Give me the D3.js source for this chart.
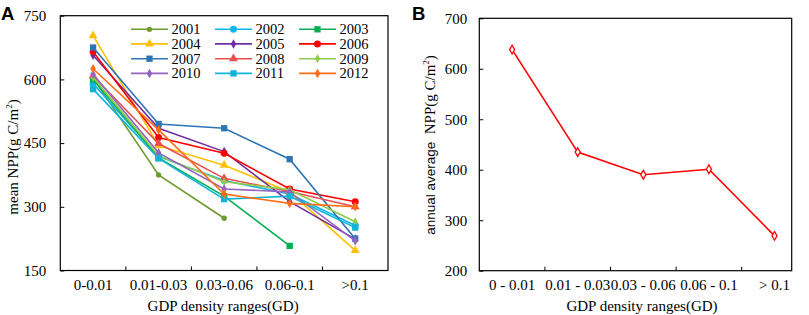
<!DOCTYPE html>
<html><head><meta charset="utf-8">
<script src="https://cdn.jsdelivr.net/npm/d3@7"></script>
<style>
body{margin:0;background:#fff;}
text{font-family:"Liberation Serif","Times New Roman",serif;}
</style></head>
<body><svg id="c" width="809" height="315"></svg>
<script>
const categoriesA = ["0-0.01","0.01-0.03","0.03-0.06","0.06-0.1",">0.1"];
const categoriesB = ["0 - 0.01","0.01 - 0.03","0.03 - 0.06","0.06 - 0.1","> 0.1"];
const years = ["2001","2002","2003","2004","2005","2006","2007","2008","2009","2010","2011","2012"];
const v2001 = [603, 375, 273, null, null];
const v2002 = [590, 418, 362, 330, 256];
const v2003 = [600, 415, 325, 208, null];
const v2004 = [703, 444, 398, 335, 197];
const v2005 = [657, 485, 430, 312, 224];
const v2006 = [665, 463, 426, 342, 312];
const v2007 = [675, 495, 485, 412, 225];
const v2008 = [608, 449, 367, 336, 300];
const v2009 = [605, 420, 359, 340, 265];
const v2010 = [612, 427, 342, 335, 220];
const v2011 = [577, 414, 318, 325, 251];
const v2012 = [625, 481, 330, 308, 300];
const seriesValues = [v2001,v2002,v2003,v2004,v2005,v2006,v2007,v2008,v2009,v2010,v2011,v2012];
const colors = ["#6e9a2f","#13b5ef","#00b050","#ffc000","#7030a0","#ff0000","#2e75b6","#e8504f","#8fcc4a","#9464c0","#10b4d8","#ff6d14"];
const markers = ["circleS","circle","square","triangle","diamond","circle","square","triangle","diamondS","diamond","square","diamond"];
const ticksA = [150,300,450,600,750];
const avgNPP = [638, 435, 390, 401, 269];
const ticksB = [200,300,400,500,600,700];

const FS = 15;
const SANS = "'Liberation Sans', Arial, sans-serif";
const svg = d3.select("#c");

function symbolPath(type){
  const m = {
    circleS:[d3.symbolCircle,22], circle:[d3.symbolCircle,38], square:[d3.symbolSquare,40],
    triangle:[d3.symbolTriangle,34], diamond:[d3.symbolDiamond,26], diamondS:[d3.symbolDiamond,22]
  }[type];
  return d3.symbol().type(m[0]).size(m[1])();
}

// ---------- Panel A ----------
const A = {l:60.3, r:388, t:15.7, b:270.5};
const xA = d3.scaleBand().domain(categoriesA).range([A.l, A.r]);
const yA = d3.scaleLinear().domain([150,750]).range([A.b, A.t]);
const gA = svg.append("g");
gA.append("rect").attr("x",A.l).attr("y",A.t).attr("width",A.r-A.l).attr("height",A.b-A.t)
  .attr("fill","none").attr("stroke","#000").attr("stroke-width",1.2);
const yAxA = gA.append("g").attr("transform",`translate(${A.l},0)`)
  .call(d3.axisLeft(yA).tickValues(ticksA).tickSizeInner(-4).tickSizeOuter(0).tickPadding(14));
yAxA.select(".domain").remove();
yAxA.selectAll("text").attr("font-size",FS);
const xAxA = gA.append("g").attr("transform",`translate(0,${A.b})`)
  .call(d3.axisBottom(xA).tickSize(0).tickPadding(9));
xAxA.select(".domain").remove();
xAxA.selectAll("text").attr("font-size",FS);
categoriesA.slice(1).forEach(c=>{
  gA.append("line").attr("x1",xA(c)).attr("x2",xA(c)).attr("y1",A.b).attr("y2",A.b-4).attr("stroke","#000");
});
gA.append("text").attr("x",(A.l+A.r)/2-1).attr("y",311).attr("text-anchor","middle").attr("font-size",FS).text("GDP density ranges(GD)");
const ylA = gA.append("text").attr("transform","translate(18,157) rotate(-90)").attr("text-anchor","middle").attr("font-size",FS);
ylA.append("tspan").text("mean NPP(g C/m");
ylA.append("tspan").attr("font-size",9).attr("dy",-6).text("2");
ylA.append("tspan").attr("dy",6).text(")");
svg.append("text").attr("x",1).attr("y",20).style("font-family",SANS).attr("font-weight","bold").attr("font-size",18.5).text("A");

const lineA = d3.line().defined(d=>d.v!==null).x(d=>xA(d.c)+xA.bandwidth()/2).y(d=>yA(d.v));
seriesValues.forEach((vals,i)=>{
  const pts = vals.map((v,j)=>({c:categoriesA[j], v}));
  gA.append("path").datum(pts).attr("d",lineA).attr("fill","none").attr("stroke",colors[i]).attr("stroke-width",1.6);
  gA.selectAll(null).data(pts.filter(d=>d.v!==null)).enter().append("path")
    .attr("d",symbolPath(markers[i])).attr("fill",colors[i])
    .attr("transform",d=>`translate(${xA(d.c)+xA.bandwidth()/2},${yA(d.v)})`);
});

// legend
const legX = [131, 215, 299], legY = [29.3, 43.9, 58.7, 73.4];
years.forEach((yr,i)=>{
  const col = i%3, row = Math.floor(i/3);
  const g = gA.append("g").attr("transform",`translate(${legX[col]},${legY[row]})`);
  g.append("line").attr("x1",0).attr("x2",37).attr("stroke",colors[i]).attr("stroke-width",1.6);
  g.append("path").attr("d",symbolPath(markers[i])).attr("fill",colors[i]).attr("transform","translate(18.5,0)");
  g.append("text").attr("x",40.5).attr("y",5).attr("font-size",14.5).text(yr);
});

// ---------- Panel B ----------
const B = {l:479.3, r:791.7, t:18.3, b:270.7};
const xB = d3.scaleBand().domain(categoriesB).range([B.l, B.l + 5*65.6]);
const yB = d3.scaleLinear().domain([200,700]).range([B.b, B.t]);
const gB = svg.append("g");
gB.append("rect").attr("x",B.l).attr("y",B.t).attr("width",B.r-B.l).attr("height",B.b-B.t)
  .attr("fill","none").attr("stroke","#000").attr("stroke-width",1.2);
const yAxB = gB.append("g").attr("transform",`translate(${B.l},0)`)
  .call(d3.axisLeft(yB).tickValues(ticksB).tickSizeInner(-4).tickSizeOuter(0).tickPadding(12));
yAxB.select(".domain").remove();
yAxB.selectAll("text").attr("font-size",FS);
const xAxB = gB.append("g").attr("transform",`translate(0,${B.b})`)
  .call(d3.axisBottom(xB).tickSize(0).tickPadding(9));
xAxB.select(".domain").remove();
xAxB.selectAll("text").attr("font-size",FS);
categoriesB.slice(1).forEach(c=>{
  gB.append("line").attr("x1",xB(c)).attr("x2",xB(c)).attr("y1",B.b).attr("y2",B.b-4).attr("stroke","#000");
});
gB.append("text").attr("x",642).attr("y",311).attr("text-anchor","middle").attr("font-size",FS).text("GDP density ranges(GD)");
const ylB = gB.append("text").attr("transform","translate(435,145) rotate(-90)").attr("text-anchor","middle").attr("font-size",FS);
ylB.append("tspan").style("font-family",SANS).attr("font-size",13.5).text("annual average\u00a0\u00a0");
ylB.append("tspan").text("NPP(g C/m");
ylB.append("tspan").attr("font-size",9).attr("dy",-6).text("2");
ylB.append("tspan").attr("dy",6).text(")");
svg.append("text").attr("x",412).attr("y",20).style("font-family",SANS).attr("font-weight","bold").attr("font-size",18.5).text("B");

const ptsB = avgNPP.map((v,j)=>({c:categoriesB[j], v}));
const lineB = d3.line().x(d=>xB(d.c)+xB.bandwidth()/2).y(d=>yB(d.v));
gB.append("path").datum(ptsB).attr("d",lineB).attr("fill","none").attr("stroke","#ff0000").attr("stroke-width",1.6);
gB.selectAll(null).data(ptsB).enter().append("path")
  .attr("d",d3.symbol().type(d3.symbolDiamond).size(22)())
  .attr("fill","#fff").attr("stroke","#ff0000").attr("stroke-width",1.3)
  .attr("transform",d=>`translate(${xB(d.c)+xB.bandwidth()/2},${yB(d.v)})`);
</script></body></html>
